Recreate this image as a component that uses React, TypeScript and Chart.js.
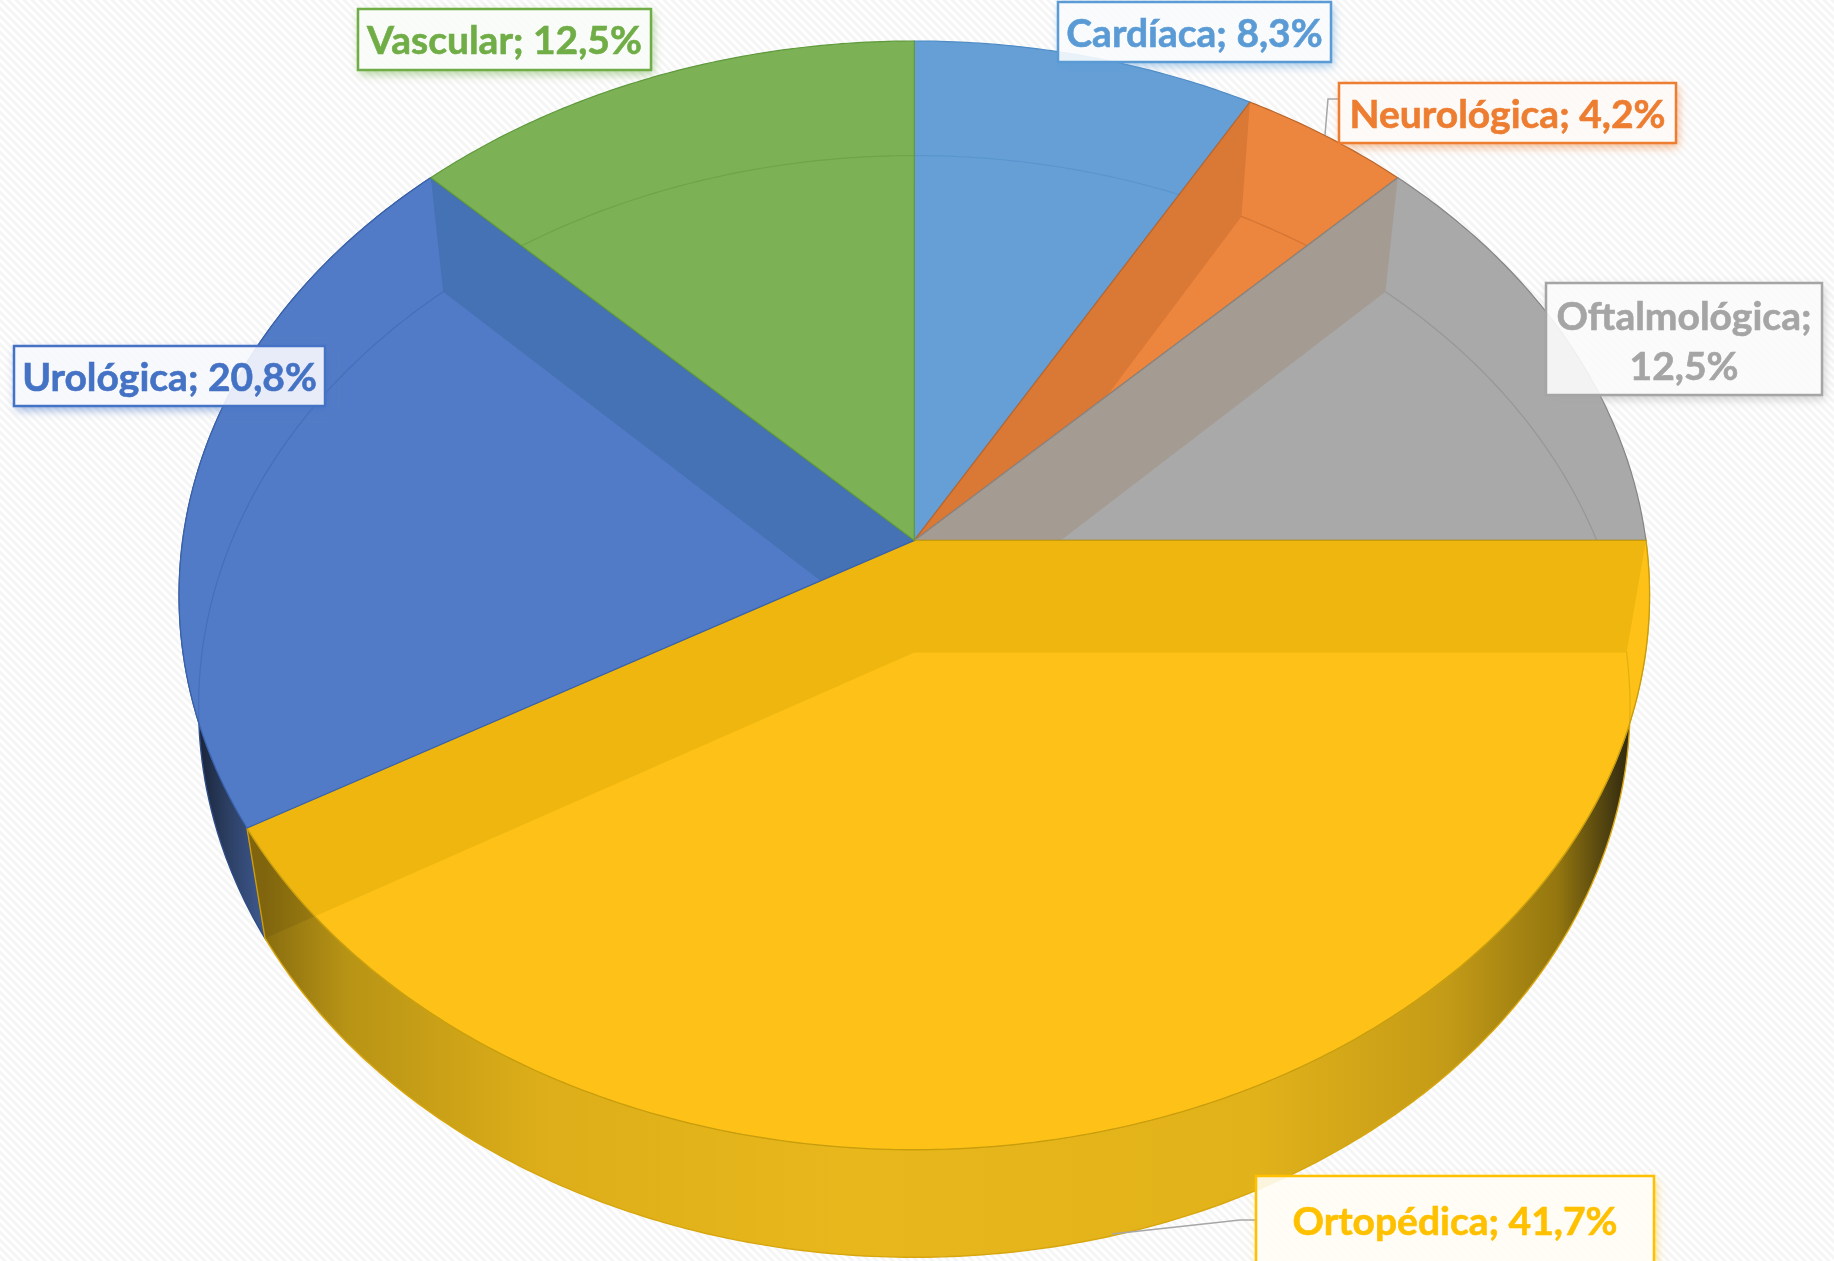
import React, { useEffect, useRef } from "react";
import { Chart, registerables } from "chart.js";

Chart.register(...registerables);

const categories = ["Cardíaca", "Neurológica", "Oftalmológica", "Ortopédica", "Urológica", "Vascular"];
const values = [8.3, 4.2, 12.5, 41.7, 20.8, 12.5];

const baseColors = ["#5B9BD5", "#ED7D31", "#A5A5A5", "#FFC000", "#4472C4", "#70AD47"];
const topColors = ["#659FD6", "#EC853D", "#A9A9A9", "#FDC117", "#527BC7", "#7DB155"];
const seenWallColors = ["#659FD6", "#DA7836", "#A49B93", "#EFB60F", "#4571B5", "#7DB155"];
const edgeColors = ["#4F8CC6", "#B9652A", "#858585", "#C79D0E", "#3A63AD", "#5F9A3C"];

const W = 1834;
const H = 1261;
const TOP = { cx: 914.3, cy: 540.4, a: 731.6, b: 548.9, k: -0.0991 };
const LOW = { cx: 914.3, cy: 652.6, a: 712.3, b: 545.6, k: -0.0977 };

const labelBoxes = [
  { x: 1058, y: 2, w: 273, h: 60 },
  { x: 1339, y: 83, w: 337, h: 60 },
  { x: 1546, y: 283, w: 276, h: 112 },
  { x: 1256, y: 1176, w: 398, h: 100, textY: 1222 },
  { x: 14, y: 346, w: 311, h: 60 },
  { x: 358, y: 9, w: 293, h: 61 },
];
const leaderLines = [
  { color: "#A6A6A6", pts: [[1339, 99], [1328, 99], [1325, 135]] },
  { color: "#A6A6A6", pts: [[1256, 1220], [1240, 1220], [1112, 1234]] },
];

type Disc = typeof TOP;
const proj = (d: Disc, t: number): [number, number] => {
  const u = Math.cos(t);
  const v = Math.sin(t);
  const w = 1 + d.k * v;
  return [d.cx + (d.a * u) / w, d.cy + (d.b * v) / w];
};
const arcPts = (d: Disc, t0: number, t1: number) => {
  const n = Math.max(2, Math.ceil(Math.abs(t1 - t0) / 0.01));
  const out: [number, number][] = [];
  for (let i = 0; i <= n; i++) out.push(proj(d, t0 + ((t1 - t0) * i) / n));
  return out;
};
const poly = (ctx: CanvasRenderingContext2D, pts: [number, number][]) => {
  pts.forEach((p, i) => (i ? ctx.lineTo(p[0], p[1]) : ctx.moveTo(p[0], p[1])));
  ctx.closePath();
};
const area = (pts: [number, number][]) =>
  pts.reduce((s, p, i) => {
    const q = pts[(i + 1) % pts.length];
    return s + p[0] * q[1] - q[0] * p[1];
  }, 0);

const withAlpha = (hex: string, a: number) => {
  const n = parseInt(hex.slice(1), 16);
  return `rgba(${n >> 16},${(n >> 8) & 255},${n & 255},${a})`;
};

const hatch = () => {
  const c = document.createElement("canvas");
  c.width = 8;
  c.height = 8;
  const g = c.getContext("2d")!;
  g.fillStyle = "#ffffff";
  g.fillRect(0, 0, 8, 8);
  g.strokeStyle = "#f5f5f5";
  g.lineWidth = 2.8;
  for (const o of [-8, 0, 8]) {
    g.beginPath();
    g.moveTo(o - 1, -1);
    g.lineTo(o + 9, 9);
    g.stroke();
  }
  return c;
};

const pie3d = {
  id: "pie3d",
  beforeDraw(chart: any) {
    const { ctx } = chart;
    ctx.save();
    ctx.fillStyle = ctx.createPattern(hatch(), "repeat");
    ctx.fillRect(0, 0, W, H);
    ctx.restore();
  },
  beforeDatasetsDraw(chart: any) {
    const { ctx } = chart;
    const arcs = chart.getDatasetMeta(0).data;
    const bounds: number[] = arcs.map((a: any) => a.startAngle);

    // outer wall of the slices facing the viewer
    const ortho = arcs[3];
    const uro = arcs[4];
    const wall = (s: number, e: number, fill: any, edge: string) => {
      ctx.beginPath();
      poly(ctx, [...arcPts(TOP, s, e), ...arcPts(LOW, e, s)]);
      ctx.fillStyle = fill;
      ctx.fill();
      ctx.lineWidth = 1.4;
      ctx.strokeStyle = edge;
      ctx.stroke();
    };
    const g2 = ctx.createLinearGradient(190, 0, 265, 0);
    g2.addColorStop(0, "#141C2C");
    g2.addColorStop(0.5, "#2C3F63");
    g2.addColorStop(1, "#3F5A90");
    wall(uro.startAngle, uro.endAngle, g2, "#2E4C86");
    const g1 = ctx.createLinearGradient(265, 0, 1640, 0);
    g1.addColorStop(0, "#8A6E10");
    g1.addColorStop(0.06, "#B89415");
    g1.addColorStop(0.2, "#DDAE19");
    g1.addColorStop(0.42, "#E8B71C");
    g1.addColorStop(0.72, "#E2B21A");
    g1.addColorStop(0.86, "#C49B17");
    g1.addColorStop(0.94, "#94770F");
    g1.addColorStop(0.985, "#3D3310");
    g1.addColorStop(1, "#2A2410");
    wall(ortho.startAngle, ortho.endAngle, g1, "#D7A60E");
    // radial wall seen against the outer wall
    ctx.beginPath();
    poly(ctx, [[TOP.cx, TOP.cy], proj(TOP, ortho.endAngle), proj(LOW, ortho.endAngle), [LOW.cx, LOW.cy]]);
    ctx.fillStyle = "rgba(60,45,0,0.12)";
    ctx.fill();

    // top faces, with the radial walls seen through them
    arcs.forEach((arc: any, i: number) => {
      const sector: [number, number][] = [[TOP.cx, TOP.cy], ...arcPts(TOP, arc.startAngle, arc.endAngle)];
      ctx.save();
      ctx.beginPath();
      poly(ctx, sector);
      ctx.fillStyle = topColors[i];
      ctx.fill();
      ctx.clip();
      ctx.beginPath();
      arcPts(LOW, 0, Math.PI * 2).forEach((p, k) => (k ? ctx.lineTo(p[0], p[1]) : ctx.moveTo(p[0], p[1])));
      ctx.lineWidth = 1.2;
      ctx.strokeStyle = withAlpha(edgeColors[i], 0.5);
      ctx.stroke();
      ctx.beginPath();
      bounds.forEach((t) => {
        const q: [number, number][] = [[TOP.cx, TOP.cy], proj(TOP, t), proj(LOW, t), [LOW.cx, LOW.cy]];
        poly(ctx, area(q) > 0 ? q : q.reverse());
      });
      ctx.fillStyle = seenWallColors[i];
      ctx.fill();
      ctx.restore();
      ctx.beginPath();
      poly(ctx, sector);
      ctx.lineWidth = 1.2;
      ctx.strokeStyle = edgeColors[i];
      ctx.stroke();
    });

    // leader lines
    leaderLines.forEach((l) => {
      ctx.beginPath();
      l.pts.forEach((p, k) => (k ? ctx.lineTo(p[0], p[1]) : ctx.moveTo(p[0], p[1])));
      ctx.strokeStyle = l.color;
      ctx.lineWidth = 1.5;
      ctx.stroke();
    });

    // data labels
    arcs.forEach((_: any, i: number) => {
      const b: any = labelBoxes[i];
      const color = baseColors[i];
      ctx.save();
      ctx.beginPath();
      ctx.rect(0, 0, W, H);
      ctx.rect(b.x, b.y, b.w, b.h);
      ctx.clip("evenodd");
      ctx.shadowColor = withAlpha(color, 0.55);
      ctx.shadowBlur = 9;
      ctx.shadowOffsetX = 2;
      ctx.shadowOffsetY = 4;
      ctx.fillStyle = "#ffffff";
      ctx.fillRect(b.x, b.y, b.w, b.h);
      ctx.restore();
      ctx.fillStyle = "rgba(255,255,255,0.9)";
      ctx.fillRect(b.x, b.y, b.w, b.h);
      ctx.fillStyle = withAlpha(color, 0.04);
      ctx.fillRect(b.x, b.y, b.w, b.h);
      ctx.strokeStyle = color;
      ctx.lineWidth = 2.5;
      ctx.strokeRect(b.x, b.y, b.w, b.h);
      ctx.fillStyle = color;
      ctx.font = "bold 39px Lato";
      ctx.textAlign = "center";
      ctx.textBaseline = "middle";
      ctx.lineWidth = 0.6;
      const pct = values[i].toFixed(1).replace(".", ",") + "%";
      const cx = b.x + b.w / 2;
      const one = `${categories[i]}; ${pct}`;
      const put = (s: string, y: number) => {
        ctx.fillText(s, cx, y);
        ctx.strokeText(s, cx, y);
      };
      if (ctx.measureText(one).width > b.w) {
        put(`${categories[i]};`, b.y + b.h * 0.31);
        put(pct, b.y + b.h * 0.755);
      } else {
        put(one, b.textY ?? b.y + b.h / 2 + 2);
      }
    });
    return false;
  },
};

export default function App() {
  const ref = useRef<HTMLCanvasElement>(null);
  useEffect(() => {
    document.body.style.margin = "0";
    const chart = new Chart(ref.current!, {
      type: "pie",
      data: {
        labels: categories,
        datasets: [{ data: values, backgroundColor: baseColors, borderWidth: 0 }],
      },
      options: {
        responsive: false,
        animation: false,
        plugins: { legend: { display: false }, tooltip: { enabled: false } },
      },
      plugins: [pie3d],
    } as any);
    return () => chart.destroy();
  }, []);
  return <canvas ref={ref} width={W} height={H} style={{ display: "block" }} />;
}
